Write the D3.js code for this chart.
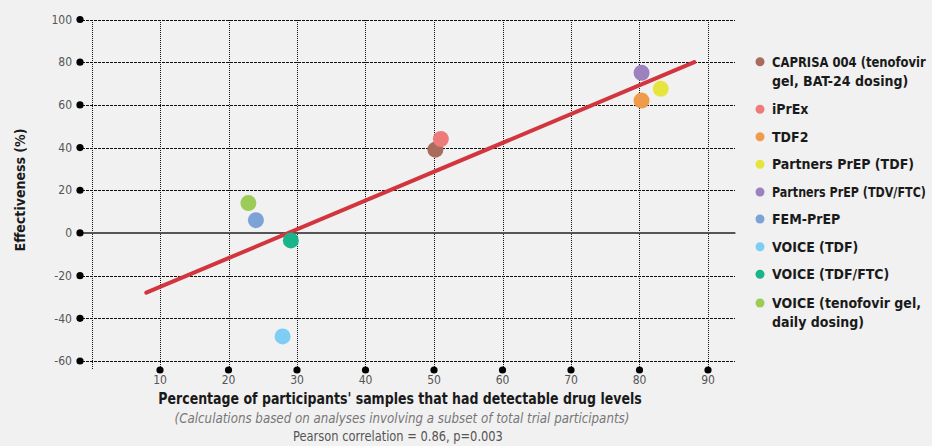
<!DOCTYPE html>
<html><head><meta charset="utf-8">
<script src="https://cdn.jsdelivr.net/npm/d3@7"></script>
<style>
html,body{margin:0;padding:0;background:#f1f1f1;}
svg{display:block;}
text{font-family:"DejaVu Sans Condensed","DejaVu Sans",sans-serif;font-stretch:condensed;}
</style></head>
<body>
<svg id="chart" width="932" height="446"></svg>
<script>
const studies = ["CAPRISA 004 (tenofovir gel, BAT-24 dosing)","iPrEx","TDF2","Partners PrEP (TDF)","Partners PrEP (TDV/FTC)","FEM-PrEP","VOICE (TDF)","VOICE (TDF/FTC)","VOICE (tenofovir gel, daily dosing)"];
const legendLines = [["CAPRISA 004 (tenofovir","gel, BAT-24 dosing)"],["iPrEx"],["TDF2"],["Partners PrEP (TDF)"],["Partners PrEP (TDV/FTC)"],["FEM-PrEP"],["VOICE (TDF)"],["VOICE (TDF/FTC)"],["VOICE (tenofovir gel,","daily dosing)"]];
const adherence = [50.2, 51.0, 80.3, 83.1, 80.3, 24.0, 27.9, 29.1, 22.9];
const effectiveness = [39, 44, 62, 67.5, 75, 6, -48.5, -3.5, 14];
const colors = ["#a96c5c","#ee7b7c","#ee9c4c","#e6e53e","#9b82bf","#7ca2d8","#7ecdf4","#1ab48a","#9ccb58"];
const xTicks = [10,20,30,40,50,60,70,80,90];
const xGrid = [0,10,20,30,40,50,60,70,80,90];
const yTicks = [100,80,60,40,20,0,-20,-40,-60];
const trendX = [8, 88];
const trendY = [-28, 80];

const svg = d3.select("#chart");
const x = d3.scaleLinear().domain([0,90]).range([91.5,708]);
const y = d3.scaleLinear().domain([-60,100]).range([361,19.5]);
const px = v => Math.round(v) + 0.5;

const xRight = x(94), xLeft = 82;
const yBottom = y(-64.3), yTop = y(100);

// horizontal grid
svg.append("g").attr("shape-rendering","crispEdges").selectAll("line").data(yTicks.filter(d=>d!==0)).join("line")
  .attr("x1",xLeft).attr("x2",xRight).attr("y1",d=>px(y(d))).attr("y2",d=>px(y(d)))
  .attr("stroke","#111").attr("stroke-width",1).attr("stroke-dasharray","3,1");
// vertical grid
svg.append("g").attr("shape-rendering","crispEdges").selectAll("line").data(xGrid).join("line")
  .attr("x1",d=>px(x(d))).attr("x2",d=>px(x(d))).attr("y1",yTop).attr("y2",yBottom)
  .attr("stroke","#111").attr("stroke-width",1).attr("stroke-dasharray","1,1");
// zero line
svg.append("line").attr("x1",xLeft).attr("x2",xRight).attr("y1",y(0)).attr("y2",y(0))
  .attr("stroke","#555").attr("stroke-width",2);

// y ticks
const yt = svg.append("g").selectAll("g").data(yTicks).join("g");
yt.append("circle").attr("cx",80).attr("cy",d=>y(d)).attr("r",3.6).attr("fill","#000");
yt.append("text").attr("x",72).attr("y",d=>y(d)).attr("dy","0.35em").attr("text-anchor","end")
  .attr("font-size",12).attr("fill","#555").text(d=>d);
// x ticks
const xt = svg.append("g").selectAll("g").data(xTicks).join("g");
xt.append("circle").attr("cx",d=>x(d)).attr("cy",370).attr("r",3.6).attr("fill","#000");
xt.append("text").attr("x",d=>x(d)).attr("y",384).attr("text-anchor","middle")
  .attr("font-size",12).attr("fill","#555").text(d=>d);

// trend line
svg.append("line").attr("x1",x(trendX[0])).attr("y1",y(trendY[0])).attr("x2",x(trendX[1])).attr("y2",y(trendY[1]))
  .attr("stroke","#d2353d").attr("stroke-width",4).attr("stroke-linecap","round");

// points
svg.append("g").selectAll("circle").data(studies).join("circle")
  .attr("cx",(d,i)=>x(adherence[i])).attr("cy",(d,i)=>y(effectiveness[i])).attr("r",8)
  .attr("fill",(d,i)=>colors[i]);

// place text at (tx,ty) and squeeze horizontally into maxW if needed
function label(parent, tx, ty, str, maxW, attrs, rotate){
  const g = parent.append("g");
  const t = g.append("text").attr("x",0).attr("y",0).text(str);
  Object.entries(attrs).forEach(([k,v])=>t.attr(k,v));
  const L = t.node().getComputedTextLength();
  const k = L > maxW ? maxW / L : 1;
  g.attr("transform", `translate(${tx},${ty})` + (rotate ? ` rotate(${rotate})` : "") + ` scale(${k},1)`);
  return g;
}

// axis titles
label(svg, 400, 404, "Percentage of participants' samples that had detectable drug levels", 484,
  {"text-anchor":"middle","font-size":16,"font-weight":"bold","fill":"#1a1a1a"});
label(svg, 402, 423, "(Calculations based on analyses involving a subset of total trial participants)", 455,
  {"text-anchor":"middle","font-size":14,"font-style":"italic","fill":"#777"});
label(svg, 398, 441, "Pearson correlation = 0.86, p=0.003", 210,
  {"text-anchor":"middle","font-size":14,"fill":"#555"});
label(svg, 25, 190, "Effectiveness (%)", 128,
  {"text-anchor":"middle","font-size":14,"font-weight":"bold","fill":"#1a1a1a"}, -90);

// legend
const legY = [61.7,109.3,136.7,164.3,192,219,246.7,274.3,303];
const lg = svg.append("g").selectAll("g").data(studies).join("g");
lg.append("circle").attr("cx",760).attr("cy",(d,i)=>legY[i]).attr("r",4.5).attr("fill",(d,i)=>colors[i]);
lg.each(function(d,i){
  const g = d3.select(this);
  legendLines[i].forEach((s,j)=>{
    label(g, 772, legY[i] + j*19, s, 154,
      {"dy":"0.35em","font-size":14,"font-weight":"bold","fill":"#1a1a1a"});
  });
});
</script>
</body></html>
